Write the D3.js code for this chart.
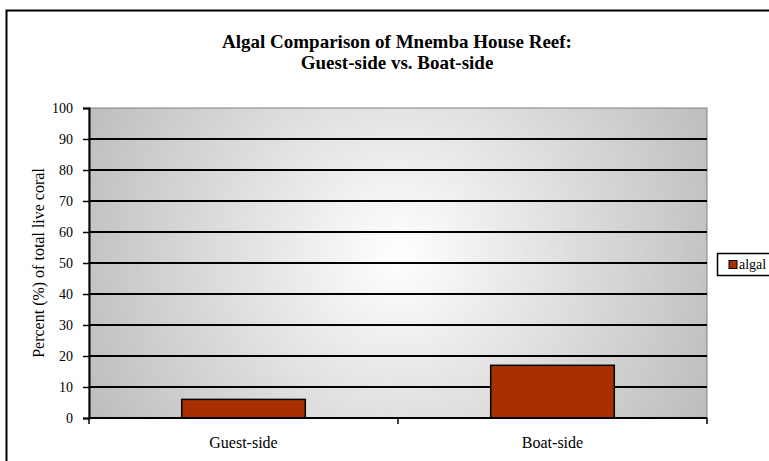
<!DOCTYPE html>
<html>
<head>
<meta charset="utf-8">
<script src="https://cdn.jsdelivr.net/npm/d3@7"></script>
<style>
  html, body { margin: 0; padding: 0; background: #fff; }
  svg { display: block; font-family: "Liberation Serif", "Times New Roman", serif; }
  text { font-family: "Liberation Serif", "Times New Roman", serif; fill: #000; }
</style>
</head>
<body>
<svg id="chart" width="769" height="461"></svg>
<script>
const categories = ["Guest-side", "Boat-side"];
const algalValues = [6, 17];
const yTicks = [0, 10, 20, 30, 40, 50, 60, 70, 80, 90, 100];
const seriesName = "algal";
const titleLines = ["Algal Comparison of Mnemba House Reef:", "Guest-side vs. Boat-side"];
const yLabel = "Percent (%) of total live coral";

const svg = d3.select("#chart");
const plot = { left: 89, right: 707, top: 108, bottom: 418 };
const barColor = "#a83000";
const serif = "'Liberation Serif', 'Times New Roman', serif";

// Outer chart frame (runs off the right and bottom edges)
svg.append("rect")
  .attr("x", 6.5).attr("y", 10.5)
  .attr("width", 800).attr("height", 500)
  .attr("fill", "#fff").attr("stroke", "#000").attr("stroke-width", 2);

// Radial shading of the plot area
const defs = svg.append("defs");
const grad = defs.append("radialGradient")
  .attr("id", "plotShade")
  .attr("gradientUnits", "userSpaceOnUse")
  .attr("cx", (plot.left + plot.right) / 2).attr("cy", 255)
  .attr("r", 360);
grad.append("stop").attr("offset", "0%").attr("stop-color", "#ffffff");
grad.append("stop").attr("offset", "100%").attr("stop-color", "#bababa");

const x = d3.scaleBand()
  .domain(categories)
  .range([plot.left, plot.right])
  .paddingInner(0.6)
  .paddingOuter(0.3);
const y = d3.scaleLinear().domain([0, 100]).range([plot.bottom, plot.top]);

svg.append("rect")
  .attr("x", plot.left).attr("y", plot.top)
  .attr("width", plot.right - plot.left).attr("height", plot.bottom - plot.top)
  .attr("fill", "url(#plotShade)")
  .attr("stroke", "#808080").attr("stroke-width", 1);

// Horizontal gridlines
svg.append("g").selectAll("line")
  .data(yTicks.filter(d => d > 0 && d < 100))
  .join("line")
  .attr("x1", plot.left).attr("x2", plot.right)
  .attr("y1", d => y(d)).attr("y2", d => y(d))
  .attr("stroke", "#000").attr("stroke-width", 2);

// Bars
svg.append("g").selectAll("rect")
  .data(categories.map((c, i) => ({ c, v: algalValues[i] })))
  .join("rect")
  .attr("x", d => x(d.c))
  .attr("y", d => y(d.v))
  .attr("width", x.bandwidth())
  .attr("height", d => y(0) - y(d.v))
  .attr("fill", barColor)
  .attr("stroke", "#000").attr("stroke-width", 1.5);

// Y axis
const yAxis = svg.append("g")
  .attr("transform", `translate(${plot.left},0)`)
  .call(d3.axisLeft(y).tickValues(yTicks).tickSize(6).tickPadding(10));
yAxis.attr("font-family", null);
yAxis.select(".domain").attr("stroke", "#000").attr("stroke-width", 2);
yAxis.selectAll(".tick line").attr("stroke", "#000").attr("stroke-width", 1.5);
yAxis.selectAll(".tick text")
  .style("font-family", serif)
  .style("font-size", "14px").attr("fill", "#000");

// X axis with tick marks at the category boundaries
const xAxisG = svg.append("g").attr("transform", `translate(0,${plot.bottom})`);
xAxisG.append("line")
  .attr("x1", plot.left).attr("x2", plot.right)
  .attr("y1", 0).attr("y2", 0)
  .attr("stroke", "#000").attr("stroke-width", 2);
const edgeXs = [plot.left, (plot.left + plot.right) / 2, plot.right];
xAxisG.selectAll("line.tk")
  .data(edgeXs)
  .join("line").attr("class", "tk")
  .attr("x1", d => d).attr("x2", d => d)
  .attr("y1", 0).attr("y2", 6)
  .attr("stroke", "#000").attr("stroke-width", 1.5);
xAxisG.selectAll("text")
  .data(categories)
  .join("text")
  .attr("x", d => x(d) + x.bandwidth() / 2)
  .attr("y", 30)
  .attr("text-anchor", "middle")
  .style("font-family", serif)
  .style("font-size", "16px")
  .text(d => d);

// Y axis title
svg.append("text")
  .attr("transform", `translate(44,${(plot.top + plot.bottom) / 2}) rotate(-90)`)
  .attr("text-anchor", "middle")
  .style("font-family", serif)
  .style("font-size", "16px")
  .text(yLabel);

// Chart title
svg.append("g").selectAll("text")
  .data(titleLines)
  .join("text")
  .attr("x", 397)
  .attr("y", (d, i) => 48 + i * 21)
  .attr("text-anchor", "middle")
  .style("font-family", serif)
  .style("font-size", "19px")
  .style("font-weight", "bold")
  .text(d => d);

// Legend
const legend = svg.append("g").attr("transform", "translate(717,253)");
legend.append("rect")
  .attr("x", 0.5).attr("y", 0.5).attr("width", 80).attr("height", 22)
  .attr("fill", "#fff").attr("stroke", "#000").attr("stroke-width", 1.5);
legend.append("rect")
  .attr("x", 12).attr("y", 7.5).attr("width", 8).attr("height", 8)
  .attr("fill", barColor).attr("stroke", "#000").attr("stroke-width", 1);
legend.append("text")
  .attr("x", 22).attr("y", 16)
  .style("font-family", serif)
  .style("font-size", "14px")
  .text(seriesName);
</script>
</body>
</html>
